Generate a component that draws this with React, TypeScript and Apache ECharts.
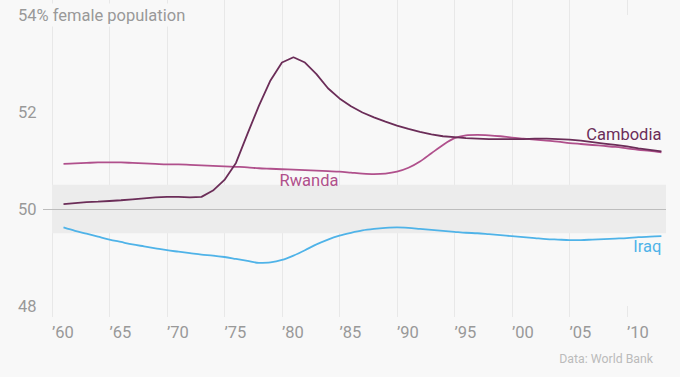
import React, { useEffect, useRef } from 'react';
import * as echarts from 'echarts';

const years = [
  1961, 1962, 1963, 1964, 1965, 1966, 1967, 1968, 1969, 1970,
  1971, 1972, 1973, 1974, 1975, 1976, 1977, 1978, 1979, 1980,
  1981, 1982, 1983, 1984, 1985, 1986, 1987, 1988, 1989, 1990,
  1991, 1992, 1993, 1994, 1995, 1996, 1997, 1998, 1999, 2000,
  2001, 2002, 2003, 2004, 2005, 2006, 2007, 2008, 2009, 2010,
  2011, 2012, 2013,
];

const cambodia = [
  50.10, 50.12, 50.14, 50.15, 50.165, 50.18, 50.20, 50.22, 50.24, 50.25,
  50.25, 50.24, 50.25, 50.38, 50.60, 50.95, 51.55, 52.13, 52.65, 53.02,
  53.13, 53.02, 52.78, 52.49, 52.28, 52.12, 51.99, 51.89, 51.80, 51.72,
  51.65, 51.59, 51.54, 51.50, 51.48, 51.46, 51.45, 51.44, 51.44, 51.44,
  51.44, 51.45, 51.45, 51.44, 51.43, 51.41, 51.38, 51.35, 51.32, 51.29,
  51.25, 51.22, 51.19,
];

const rwanda = [
  50.93, 50.94, 50.95, 50.96, 50.96, 50.96, 50.95, 50.94, 50.93, 50.92,
  50.92, 50.91, 50.90, 50.89, 50.88, 50.87, 50.86, 50.84, 50.83, 50.82,
  50.81, 50.80, 50.79, 50.78, 50.77, 50.75, 50.73, 50.72, 50.73, 50.77,
  50.85, 50.98, 51.15, 51.32, 51.46, 51.52, 51.53, 51.52, 51.50, 51.47,
  51.45, 51.43, 51.41, 51.39, 51.36, 51.34, 51.32, 51.30, 51.28, 51.25,
  51.22, 51.20, 51.17,
];

const iraq = [
  49.62, 49.55, 49.49, 49.43, 49.37, 49.32, 49.27, 49.23, 49.19, 49.15,
  49.12, 49.09, 49.06, 49.04, 49.01, 48.97, 48.93, 48.89, 48.90, 48.95,
  49.04, 49.15, 49.27, 49.37, 49.45, 49.51, 49.56, 49.59, 49.61, 49.62,
  49.61, 49.59, 49.57, 49.55, 49.53, 49.51, 49.50, 49.48, 49.46, 49.44,
  49.42, 49.40, 49.38, 49.37, 49.36, 49.36, 49.37, 49.38, 49.39, 49.40,
  49.42, 49.43, 49.44,
];

const xTickValues = [1960, 1965, 1970, 1975, 1980, 1985, 1990, 1995, 2000, 2005, 2010];
const yTickValues = [48, 50, 52, 54];
const bandRange = [49.5, 50.5];
const baseline = 50;
const titleText = '54% female population';
const sourceText = 'Data: World Bank';
const seriesNames = ['Cambodia', 'Rwanda', 'Iraq'];
const rwandaLabelYear = 1982;

const FONT = 'Roboto, "Open Sans", sans-serif';
const BG = '#f8f8f8';
const GRID = '#e8e8e8';
const AXIS_TEXT = '#999999';
const C_CAMBODIA = '#6b2d58';
const C_RWANDA = '#b0508c';
const C_IRAQ = '#4fb3e8';

const pairs = (vals: number[]) => years.map((y, i) => [y, vals[i]]);
const last = years.length - 1;
const rIdx = years.indexOf(rwandaLabelYear);

export default function App() {
  const ref = useRef<HTMLDivElement>(null);
  useEffect(() => {
    if (!ref.current) return;
    const chart = echarts.init(ref.current, null, { renderer: 'svg' });
    const labelBase = { fontFamily: FONT, fontSize: 16.5 };
    chart.setOption({
      animation: false,
      backgroundColor: BG,
      textStyle: { fontFamily: FONT },
      grid: { left: 52, right: 14, top: 15, bottom: 71 },
      title: {
        text: sourceText,
        right: 22,
        bottom: 7,
        textStyle: { fontSize: 12.3, color: '#bbbbbb', fontWeight: 'normal', fontFamily: FONT },
      },
      xAxis: [
        {
          type: 'value',
          min: 1960,
          max: 2013.4,
          interval: 5,
          position: 'bottom',
          axisLine: { show: false },
          axisTick: { show: true, length: 11, customValues: xTickValues, lineStyle: { color: GRID } },
          axisLabel: {
            customValues: xTickValues,
            formatter: (v: number) => '\u2019' + String(v).slice(2),
            align: 'left',
            margin: 18,
            color: AXIS_TEXT,
            fontSize: 16.5,
            fontFamily: FONT,
          },
          splitLine: { show: true, showMaxLine: false, lineStyle: { color: GRID } },
        },
        {
          type: 'value',
          min: 1960,
          max: 2013.4,
          interval: 5,
          position: 'top',
          axisLine: { show: false },
          axisTick: { show: true, length: 15, customValues: xTickValues, lineStyle: { color: GRID } },
          axisLabel: { show: false },
          splitLine: { show: false },
        },
      ],
      yAxis: {
        type: 'value',
        min: 48,
        max: 54,
        interval: 2,
        z: 5,
        axisLine: { show: false },
        axisTick: { show: true, customValues: [baseline], length: 9, lineStyle: { color: '#bdbdbd' } },
        axisLabel: {
          customValues: yTickValues,
          formatter: (v: number) => (v === 54 ? titleText : String(v)),
          align: 'left',
          margin: 34,
          color: AXIS_TEXT,
          fontSize: 16.5,
          fontFamily: FONT,
          backgroundColor: BG,
          padding: [3, 3, 3, 0],
        },
        splitLine: { show: true, lineStyle: { color: GRID } },
      },
      series: [
        {
          type: 'line',
          data: [],
          z: 1,
          silent: true,
          markArea: {
            silent: true,
            itemStyle: { color: '#ececec' },
            data: [[{ yAxis: bandRange[0] }, { yAxis: bandRange[1] }]],
          },
          markLine: {
            silent: true,
            symbol: 'none',
            label: { show: false },
            lineStyle: { color: '#bdbdbd', type: 'solid', width: 1 },
            data: [{ yAxis: baseline }],
          },
        },
        {
          name: seriesNames[1],
          type: 'line',
          z: 3,
          data: pairs(rwanda),
          showSymbol: false,
          symbol: 'none',
          smooth: 0.3,
          lineStyle: { color: C_RWANDA, width: 1.8 },
          markPoint: {
            symbol: 'circle',
            symbolSize: 0,
            silent: true,
            label: {
              ...labelBase,
              show: true,
              formatter: seriesNames[1],
              color: C_RWANDA,
              position: [4, 2],
              align: 'center',
              verticalAlign: 'top',
            },
            data: [{ coord: [years[rIdx], rwanda[rIdx]] }],
          },
        },
        {
          name: seriesNames[0],
          type: 'line',
          z: 4,
          data: pairs(cambodia),
          showSymbol: false,
          symbol: 'none',
          lineStyle: { color: C_CAMBODIA, width: 1.8 },
          markPoint: {
            symbol: 'circle',
            symbolSize: 0,
            silent: true,
            label: {
              ...labelBase,
              show: true,
              formatter: seriesNames[0],
              color: C_CAMBODIA,
              position: [0, -8],
              align: 'right',
              verticalAlign: 'bottom',
            },
            data: [{ coord: [years[last], cambodia[last]] }],
          },
        },
        {
          name: seriesNames[2],
          type: 'line',
          z: 3,
          data: pairs(iraq),
          showSymbol: false,
          symbol: 'none',
          smooth: 0.3,
          lineStyle: { color: C_IRAQ, width: 1.8 },
          markPoint: {
            symbol: 'circle',
            symbolSize: 0,
            silent: true,
            label: {
              ...labelBase,
              show: true,
              formatter: seriesNames[2],
              color: C_IRAQ,
              position: [0, 2],
              align: 'right',
              verticalAlign: 'top',
            },
            data: [{ coord: [years[last], iraq[last]] }],
          },
        },
      ],
    });
    return () => chart.dispose();
  }, []);
  return (
    <div
      ref={ref}
      style={{ position: 'absolute', left: 0, top: 0, width: 680, height: 377 }}
    />
  );
}
